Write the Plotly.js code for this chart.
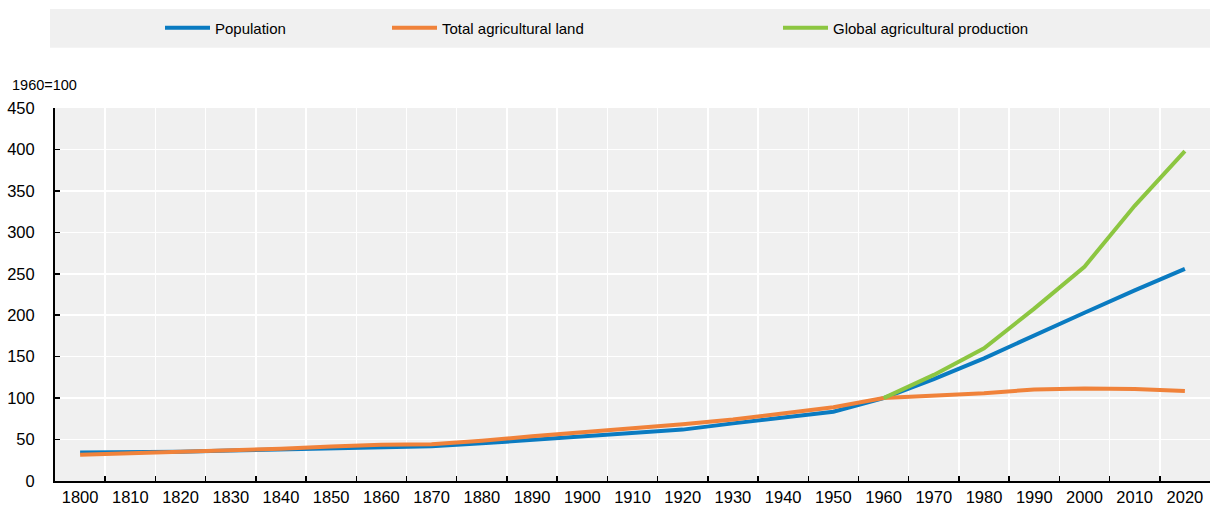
<!DOCTYPE html>
<html>
<head>
<meta charset="utf-8">
<script src="https://cdn.plot.ly/plotly-3.0.1.min.js"></script>
<style>html,body{margin:0;padding:0;background:#fff;}#chart{width:1210px;height:508px;}</style>
</head>
<body>
<div id="chart"></div>
<script>
var years = ["1800","1810","1820","1830","1840","1850","1860","1870","1880","1890","1900","1910","1920","1930","1940","1950","1960","1970","1980","1990","2000","2010","2020"];
var population = [34.5, 34.8, 35.3, 36.8, 37.8, 39.2, 40.8, 42.0, 45.5, 49.5, 53.3, 58.5, 62.0, 69.5, 76.5, 83.5, 100, 123, 148, 176, 203, 230, 256];
var agriLand = [31.8, 33.4, 35.4, 37.2, 39.0, 41.6, 43.6, 44.3, 48.5, 54.0, 58.7, 64.0, 68.4, 74.2, 81.5, 89.0, 100, 103, 105.8, 110.5, 111.5, 111, 108.6];
var agriProduction = [null, null, null, null, null, null, null, null, null, null, null, null, null, null, null, null, 100, 128, 160, 208, 258.5, 332, 398];
var seriesNames = ["Population", "Total agricultural land", "Global agricultural production"];
var yTitle = "1960=100";

var FONT = "'Liberation Sans', Arial, sans-serif";
var colors = ["#0a7bc1", "#f0823a", "#8cc641"];
var L = 55, W = 1155, B = 481, H = 373;
function px(x){ return (x - L) / W; }
function py(y){ return (B - y) / H; }

var traces = [
  {x: years, y: population, name: seriesNames[0], type: "scatter", mode: "lines", line: {color: colors[0], width: 4}, legend: "legend"},
  {x: years, y: agriLand, name: seriesNames[1], type: "scatter", mode: "lines", line: {color: colors[1], width: 4}, legend: "legend2"},
  {x: years, y: agriProduction, name: seriesNames[2], type: "scatter", mode: "lines", line: {color: colors[2], width: 4}, legend: "legend3"}
];

function leg(x){
  return {orientation: "h", x: x, xanchor: "left", y: py(28), yanchor: "middle",
          bgcolor: "rgba(0,0,0,0)", borderwidth: 0, itemwidth: 45,
          font: {family: FONT, size: 15, color: "#000"}};
}

var layout = {
  width: 1210, height: 508,
  margin: {l: L, r: 0, t: 108, b: 27, pad: 0},
  paper_bgcolor: "#ffffff",
  plot_bgcolor: "#f0f0f0",
  font: {family: FONT, size: 16, color: "#000"},
  showlegend: true,
  legend: leg(px(160)),
  legend2: leg(px(387)),
  legend3: leg(px(778)),
  xaxis: {
    type: "category", tickson: "boundaries", range: [-0.5, 22.5],
    ticks: "inside", ticklen: 5, tickwidth: 1.5, tickcolor: "#000",
    showline: true, linecolor: "#000", linewidth: 2,
    showgrid: true, gridcolor: "#ffffff", gridwidth: 1.5,
    tickfont: {family: FONT, size: 16.5, color: "#000"},
    ticklabelstandoff: 0, fixedrange: true
  },
  yaxis: {
    range: [0, 450], dtick: 50, tick0: 0,
    ticks: "inside", ticklen: 5, tickwidth: 1.5, tickcolor: "#000",
    showline: true, linecolor: "#000", linewidth: 2,
    showgrid: true, gridcolor: "#ffffff", gridwidth: 1.5, zeroline: false,
    tickfont: {family: FONT, size: 16.5, color: "#000"},
    ticklabelstandoff: 15, fixedrange: true
  },
  shapes: [{type: "rect", xref: "paper", yref: "paper", x0: px(50), x1: 1, y0: py(47.7), y1: py(9),
            fillcolor: "#f0f0f0", line: {width: 0}, layer: "below"}],
  annotations: [{text: yTitle, xref: "paper", yref: "paper", x: px(10), y: py(84.5),
                 xanchor: "left", yanchor: "middle", showarrow: false,
                 font: {family: FONT, size: 14.5, color: "#000"}}]
};

Plotly.newPlot("chart", traces, layout, {displayModeBar: false, staticPlot: true});
</script>
</body>
</html>
